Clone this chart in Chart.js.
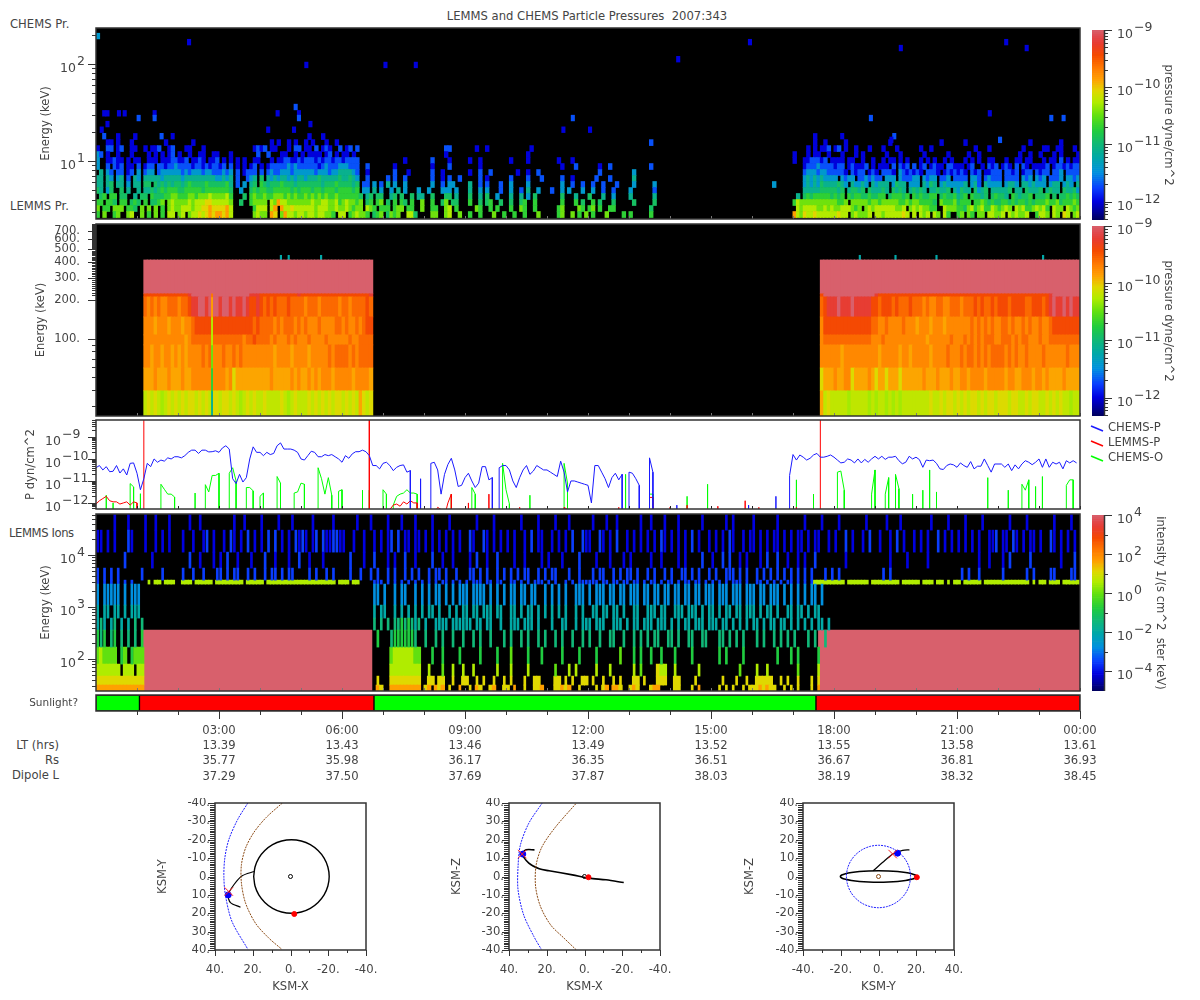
<!DOCTYPE html>
<html>
<head>
<meta charset="utf-8">
<title>LEMMS and CHEMS Particle Pressures</title>
<script src="https://cdn.jsdelivr.net/npm/chart.js@4"></script>
<style>
  html, body { margin: 0; padding: 0; background: #fff; }
  body { position: relative; width: 1200px; height: 1000px; overflow: hidden; }
  canvas { position: absolute; }
  .lbl { position: absolute; font: 11.6px "DejaVu Sans"; color: #444; white-space: pre; line-height: 14px; }
</style>
</head>
<body>
<span class="lbl" style="left:587px;top:9px;transform:translateX(-50%)">LEMMS and CHEMS Particle Pressures  2007:343</span>
<span class="lbl" style="left:10px;top:17px">CHEMS Pr.</span>
<span class="lbl" style="left:10px;top:199px">LEMMS Pr.</span>
<span class="lbl" style="left:9px;top:526px;letter-spacing:-0.4px">LEMMS Ions</span>
<span class="lbl" style="right:1141px;top:738px">LT (hrs)</span>
<span class="lbl" style="right:1141px;top:753px">Rs</span>
<span class="lbl" style="right:1141px;top:768px">Dipole L</span>
<script>
// --- CHEMS spectrogram: one string per energy bin, low to high, 12 cells per hour, '.' = empty hour
// cell characters index into pressureLevels
const chemsEdges = [2.61, 3.01, 3.47, 4.0, 4.62, 5.32, 6.14, 7.08, 8.16, 9.41, 10.85, 12.5, 14.4, 16.6, 19.2];
const chemsRows = [
  '607006700780 070607060880 780788989a9a a9a800000078 770a907a8878 878878877608 806787760567 057670088500 007700780070 060060007006 006006000700 000670070607 060007000060 600000600000 . . . a87988988888 898807877780 887888889808 087808708600 670760770887 780878778006 887087098078',
  '706607770665 070707060787 788878899a99 99a800000068 8808a0a88988 888878887787 787677087606 660677066007 006600780600 000760060600 060076006000 000670000760 670600660000 000000500000 . . . 087888877878 778887670787 888888778078 787766008777 665786786687 678708786678 786087708767',
  '660665066056 506055670787 777878889988 888700500677 77087a887777 777877887786 787767056067 050606506007 006005705500 060050560050 050056006000 000060006050 060500050000 050000050000 . . . 687777777777 766707777767 767777766767 766665076667 566606676565 566565665656 667667566676',
  '056066055004 055065556677 666776777877 778600050676 676677767676 676767676676 666665045055 004505005044 005000550400 050040500300 040040305000 000050004000 500040030000 400000040000 . . . 040565666665 656065665565 566056665606 565566056556 456065545056 554065455605 556050556565',
  '540350050400 404454565666 556666656666 666500300565 665566666565 666566566656 666560330403 003040300030 030003330300 040030300020 030020400300 020030300030 030020020000 300000020000 . . . 000444445555 545045545054 445405454045 454044544504 354405345044 444504405444 504544054453',
  '440450440304 405505454545 545655556555 556402030450 654555655545 555555455565 555450220302 040300300000 003002033000 040020200020 030000300000 000030020020 020020002000 030000030000 . . 000000300000 000343435444 454304334304 344403544033 304354034333 334034204333 303443044343 330344034304',
  '440430340204 304444434444 434444444443 343402002340 504343443434 434445444445 445430020000 020200200000 002001020020 000020100000 020000200020 000020010000 002000200000 040000000000 . . . 000343434333 303233022323 220333032223 303233022302 222033202322 202222032303 230222303323',
  '040320220120 302330233333 323233323322 232302012220 202322333233 333323332334 444320010000 000200010000 002001000000 010020020000 000100100200 . 000200000000 030000000000 . . . 000233323322 222102122012 102221032121 210222101212 121021201122 202212012202 122022302222',
  '300202120110 201220221223 222212212122 120201010120 101222223232 222221232223 332220020000 000100000000 001000020000 000010000000 . 000010002000 000100200000 000000200000 . . . 000122232222 122012111201 011102021202 012012110221 110120010212 012102021011 112012212122',
  '300112110101 100111011122 112011210112 010101010011 000101122112 122212122122 122220000000 000000100000 002000010000 010010000000 010000100000 000100010000 . . . . . 100112221201 111011001001 001011010100 010101001010 001010100110 001001101100 010110201011',
  '320100100010 000101010120 100100110011 000100000002 002000110010 101111012010 110100000000 . 000000100000 . 000000100000 . . . . . . 100010110010 001000101000 000100010000 001000000100 000100100000 000000100100 100010100001',
  '100220120011 001011200120 001100010000 000000000012 120110001022 011020121002 012020000000 . 000000220000 000100100000 000000010000 . . . . . . 000010101120 120100100010 001000100000 010010000000 000001000100 000000010000 011001100010',
  '000110100010 000000001000 000010000000 . 000101001010 010100010010 . . . . . . . 000000200000 . . . 000000100100 000100000000 000010000000 000000010000 001000000000 000000000100 000000100000',
  '000000100001 . . . . 001000100000 . . . . . . . . . . . 000000100000 . . . . . .'
];
// isolated cells above the main band: hour, energy keV, level
const chemsStrays = [
  [0.05,194,3],[2.27,168,1],[5.13,97.7,1],[7.06,97.7,1],[7.8,97.7,1],[4.87,36,2],[4.95,31,1],[4.95,27.7,2],[5.23,24,1],
  [4.2,21,1],[4.83,21,1],[4.43,31,1],[0.2,31,1],[0.28,31,1],[0.56,31,1],[0.7,31,1],[1.04,27.7,2],[1.43,31,1],[1.43,27.7,2],
  [0.14,21,1],[0.28,24,1],[0.2,18,2],[1.6,18,2],[1.87,18,1],[11.63,27.7,2],[11.4,21,1],[12.05,21,1],[14.2,112,1],[15.95,168,1],
  [19.63,146,1],[22.2,168,1],[22.7,146,1],[18.9,27.7,2],[21.8,31,1],[23.3,27.7,2],[23.6,27.7,2],[19.47,18,2],[18.2,18,1],[22.05,16.5,2],[19.4,16.5,1]
];

// --- LEMMS spectrogram: energy bin edges
const lemmsEdges = [25, 39.3, 59.3, 89.8, 107.5, 148.5, 213, 225, 414];
const lemmsRows = [
  '. 008989878989 898998989899 899898789898 898888987898 889898989899 89898a989000 . . . . . . . . . . 00000000a898 888878888878 788787878888 888898898998 989899898998 999899889899 889898988788',
  '. 00aaabaaabaa abaabbbbbbbb bbab9aaaaaaa aaabaaaaabab aabababbbabb bbbabbbba000 . . . . . . . . . . 000000009aaa baabb9aaaaba 9aa9aaa9aaaa aabaaabaaaba abbabbbbabbb bbabbaabbbab babaaaabaaaa',
  '. 00bbabbabbab ababbbbcbcbb bcbbcbcbbbbb bbbbabbbbabb bbabbbbbcbcc ccbcbcccc000 . . . . . . . . . . 00000000bbbb bbabbbbbbbbb babbbbbabbab bbbbabbbbcbb bcbccbcbcbcc ccbcbcbbcbbb bcbbbbbbcbbb',
  '. 00bbbbbbbbbb bbabcccccccc cccccccbccdc cccbcbbbcbcb bbcbbbbcbbbb bbcbbcccc000 . . . . . . . . . . 00000000bccc cccccccccccb bbcbbbbbbbbb bbbabbbbbbcb bbcbcbcbcccb bcccbcbccbbb cbbccccccccc',
  '. 00bbbabbbabb babbcddddddd ddddddddddcd ccccbcbcccbc bcbbbcbbbbcc bcbbcbcdd000 . . . . . . . . . . 00000000bddd dddddddddddc cbbcbbbbcbbb abbbabbbabbb bbbbcbcbcbcb bccbcbbcbcbb cbbcdddddddd',
  '. 00cbcbcbbccc bccdeeffefff effefeefedde dcdcdcccdccc cbcccbcccccb ccbccccdc000 . . . . . . . . . . 00000000cdee efeeefeeeeed dcdddcdcccdc ccbcbbccbbcc cbcccdcdccdc dddcddddccdd dcdefeefefee',
  '. 00dddddddddd dddeffffffff fffffffffeee ddddddddddde dddddddddddd dddddddde000 . . . . . . . . . . 00000000dfff ffffffffffff eddddddddddd dddddddddddd dddddddddddd dddddddddddd dddeffffffff',
  '. 00ffffffffff ffffffffffff ffffffffffff ffffffffffff ffffffffffff fffffffff000 . . . . . . . . . . 00000000ffff ffffffffffff ffffffffffff ffffffffffff ffffffffffff ffffffffffff ffffffffffff'
];
const lemmsSpikeHour = 2.83;
const lemmsSpikeLevels = [4, 6, 7, 8, 8, 10, 11];
const lemmsTopHours = [4.51, 4.7, 5.49, 18.63, 19.5, 20.5, 23.1];
const lemmsTopBin = [414, 450];

// --- line panel, log10 pressure, 12 points per hour; F = below the axis
const F = -13;
const chemsP = [
  -10.4,-10.3,-10.5,-10.35,-10.58,-10.56,-10.3,-10.64,-10.45,-10.73,-10.2,-10.18,
  -10.65,-11.4,-10.9,-10.2,-10.35,-10.0,-10.15,-10.05,-10.1,-9.95,-10.0,-9.9,
  -9.9,-9.95,-9.85,-9.7,-9.6,-9.6,-9.75,-9.6,-9.6,-9.68,-9.67,-9.63,
  -9.7,-9.5,-9.4,-9.55,-10.9,-11.12,-10.7,-11.05,-10.85,-10,-9.45,-9.7,
  -9.7,-9.85,-9.7,-9.8,-9.75,-9.4,-9.27,-9.55,-9.55,-9.55,-9.6,-9.7,
  -10,-10.05,-9.85,-9.65,-9.7,-9.9,-9.9,-9.8,-9.85,-9.8,-9.9,-10,
  -10.15,-9.85,-9.97,-9.77,-9.67,-9.67,-9.6,-9.67,-9.85,-10.3,-10.3,-10.45,
  -10.2,-10.15,-10.3,-10.53,-10.38,-10.3,-10.27,-10.6,-10.53,F,F,-10.9,
  F,F,-10.2,-10.15,-10.5,-11.6,-10.7,-10.25,-9.97,-10.5,-11.25,-11.2,
  -10.85,-10.65,-11.0,-11.3,-11.1,-10.35,-10.35,-10.95,-10.85,F,-10.4,-10.3,
  -10.3,-10.5,-11.0,-11.3,-10.85,-10.5,-10.3,-10.7,-10.55,-10.3,-10.4,-10.5,
  -10.5,-10.6,-10.7,-10.8,-10.1,-10.6,-11.5,-11.0,-11,-11.05,-11.1,-11.15,
  -11.2,-12,-10.3,-10.3,-10.6,-10.9,-11.3,-10.85,-10.65,-10.95,-10.7,F,
  -10.6,-10.65,-10.9,-11.2,F,F,-9.95,-10.6,F,F,F,F,
  F,F,-12.1,F,F,F,F,F,F,F,F,F,
  F,F,F,F,F,F,F,F,F,F,F,-12.1,
  F,F,F,F,F,F,F,-11.7,F,F,F,-10.75,
  -9.8,-10.05,-9.82,-9.92,-10.05,-9.97,-9.82,-9.75,-9.92,-9.92,-9.88,-9.82,
  -9.92,-10.05,-10.18,-10.15,-10,-10.05,-10.18,-10,-10.18,-10.02,-10.15,-10,
  -9.88,-10,-9.88,-10.02,-9.92,-9.92,-9.88,-10.08,-10.22,-10.15,-9.88,-10,
  -9.92,-10.03,-10.38,-10.05,-10.08,-10.05,-10.2,-10.45,-10.48,-10.3,-10.23,-10.27,
  -10.38,-10.18,-10.3,-10.38,-10.12,-10.45,-10.33,-10.33,-10,-10.3,-10.6,-10.23,
  -10.23,-10.23,-10.38,-10.23,-10.53,-10.27,-10.45,-10.23,-10.08,-10.15,-10.26,-10.15,
  -10,-10.38,-10,-10.38,-10.15,-10.23,-10.15,-10.45,-10.08,-10.18,-10.08,-10.18
];
const lemmsP = [
  -12.05,-11.9,-11.8,-11.7,-11.9,-11.95,-11.95,-12.05,-12,-11.95,-12.1,-11.95,
  -12,F,-8,-8,-8,-8,-8,-8,-8,-8,-8,-8,
  -8,-8,-8,-8,-8,-8,-8,-8,-8,-8,-8,-8,
  -8,-8,-8,-8,-8,-8,-8,-8,-8,-8,-8,-8,
  -8,-8,-8,-8,-8,-8,-8,-8,-8,-8,-8,-8,
  -8,-8,-8,-8,-8,-8,-8,-8,-8,-8,-8,-8,
  -8,-8,-8,-8,-8,-8,-8,-8,-8,F,F,F,
  F,F,-12.3,-12.1,-12.05,-12.15,-11.95,-12.05,-11.9,-12,-12,F,
  -12.3,F,F,-12.5,-12.2,-12.3,-12.6,-12.0,-11.6,F,F,F,
  F,-12,F,F,F,F,F,-11.6,F,F,F,F,
  F,-12.3,F,F,-12.2,F,F,-12.4,F,F,F,F,
  F,F,F,F,F,-12.2,-12.3,F,F,F,F,F,
  F,F,F,-12.3,F,F,F,F,F,-12.2,F,F,
  F,F,F,F,F,F,-11.75,-11.75,F,F,F,F,
  -12.2,F,F,F,F,-12.1,F,F,-12.3,F,F,F,
  F,F,-12.15,F,F,F,F,F,F,F,-11.9,F,
  F,F,-12.2,F,F,F,F,F,F,F,F,F,
  F,-12.2,F,F,F,F,F,F,-8,-8,-8,-8,
  -8,-8,-8,-8,-8,-8,-8,-8,-8,-8,-8,-8,
  -8,-8,-8,-8,-8,-8,-8,-8,-8,-8,-8,-8,
  -8,-8,-8,-8,-8,-8,-8,-8,-8,-8,-8,-8,
  -8,-8,-8,-8,-8,-8,-8,-8,-8,-8,-8,-8,
  -8,-8,-8,-8,-8,-8,-8,-8,-8,-8,-8,-8,
  -8,-8,-8,-8,-8,-8,-8,-8,-8,-8,-8,-8
];
const chemsO = [
  F,F,F,-11.65,F,-12,F,F,F,F,-11.12,-11.27,
  F,-11.58,F,F,F,F,F,-11.15,-11.38,-11.6,-11.6,-11.73,
  F,F,F,F,F,-11.55,F,F,-11.17,-11.5,-10.75,-10.75,
  -10.65,F,F,-10.65,-10.4,-11.0,F,F,-11.3,-11.3,-11.45,F,
  -11.7,-11.55,F,F,F,-10.8,-11.1,F,F,F,-11.55,-11.5,
  -11.1,-11.15,F,F,F,-10.4,-10.9,-11.6,-10.85,-11.65,F,-11.47,
  -11.4,F,F,F,F,F,-11.42,F,-11.42,F,F,F,
  -11.4,-11.6,F,-12.1,-11.7,-11.6,-11.55,-11.4,-11.55,-11.55,-11.6,F,
  F,F,F,F,F,F,F,F,-11.6,F,F,F,
  F,F,-11.3,-11.6,F,F,F,F,F,F,F,-10.2,
  -11.4,-12.05,F,F,F,F,F,-11.65,F,F,F,F,
  F,F,F,F,F,-10.2,-11.1,F,F,F,F,F,
  F,F,F,F,F,F,F,F,F,F,F,-10.7,
  F,F,F,F,F,F,-11.6,-11.6,F,F,F,F,
  F,F,F,F,F,-11.7,F,F,F,F,F,-11.15,
  F,F,F,F,F,F,F,F,F,F,F,F,
  F,F,F,F,F,F,F,F,F,F,F,F,
  F,-10.95,F,F,F,F,-11.6,F,F,F,F,F,
  F,-10.6,-10.55,-11.42,F,F,F,F,F,F,F,-11.6,
  -10.5,F,F,-11.6,-10.85,F,-10.7,-11.35,F,F,F,-11.6,
  F,F,-11.42,F,-10.5,F,-11.5,F,F,F,F,F,
  F,F,F,F,F,F,F,F,F,-10.85,F,F,
  F,F,F,-11.42,F,F,F,-11.15,-11.42,-10.95,F,-11.25,
  F,-10.8,F,F,F,F,F,F,-11.2,-10.95,-10.95,F
];

// --- LEMMS ions spectrogram
const ionsEdges = [24.3, 31.6, 47, 80, 170, 361, 614, 1092, 2768, 3300, 5620, 11400, 30200, 61700];
const ionsRows = [
  'aaaaaaaaaaaa aa0000000000 . . . . 0000000000a9 00aaaaaaaaa0 9a0a9a0900a0 090a9009a009 90a0090099a0 0099a9a00900 00909a0aa900 9a90009aa000 09900090a000 009090900909 99a9a9900909 0900090a0000 . . . . . .',
  '999999999999 990000000000 . . . . 000000000090 009999999990 099099009009 900909009009 090009009900 009909090099 090090090900 099090009990 099000090000 000900090090 099999009090 090009090000 . . . . . .',
  '888888808880 880000000000 . . . . . 008888888880 080007008008 008000000800 080000800000 007000808000 008000800000 080700009880 080000008000 000000007000 080080000000 070000080000 . . . . . .',
  '787777067067 770000000000 . . . . . 007888888770 006006000060 000060000600 070000600060 000060000600 006000000700 060600600600 060000600000 006060000600 000000060006 060000060000 . . . . . .',
  '656056050505 060000000000 . . . . 000000000060 005666666500 500505005005 005050050005 050050500505 005050050050 500500550050 050505055005 505005500550 005505050500 050500505050 500050500500 . . . . . .',
  '454045040405 050000000000 . . . . 000000000505 050556565450 400444404444 440440440040 044404440400 040044004044 404440044404 044044404440 404044044404 440440404040 440404404404 040404044040 . . . . . .',
  '404404404044 400000000000 . . . . 000000000404 400404040404 044040040404 404404440440 044040440404 040404004040 044044044040 044004440440 044404440404 404044044044 404044040044 044040440000 . . . . . .',
  '303333303033 300000000000 . . . . 000000000330 300303300303 030330303033 303333030303 033033033003 030303003330 303330330330 333033033033 033033033033 303330333033 303303330303 030303303000 . . . . . .',
  '202020202020 000808808880 088808888808 888888808888 808888888888 888888888808 880880000222 020202020202 020202202020 202220220220 022020202220 202002020222 222022022022 022020220202 202022022020 202020222020 022020202022 020202888888 888088888808 888888808888 808880880808 808888808888 888888888080 880888088888',
  '202020200000 020000020000 020020020002 202022002020 020220202200 002020020200 002002002020 020200202020 020220200200 022020200202 020202200202 022000200200 020220020202 202002020020 200220202002 020022202020 020202020202 020202000202 020000000000 002020000000 . 020200200000 020000002020 000220000220',
  '000000002000 000010000000 000200100010 102001000100 020010001002 001000100000 002000100200 010100200100 002001001000 010200100200 001001000010 100010000200 001000100010 100000100100 001010000200 100202001010 001020020010 010100200000 000100000000 000010000100 000100000000 000000100100 010200000200 000000100020',
  '110101000210 001001010100 010010012010 010210102010 102020101021 210120211221 100100100101 012020110110 101010101010 021002101010 101001020110 010101020021 100210102001 010101010210 101010201001 010102100101 101010110101 011010110010 100201001020 010010201001 010100201010 101010100112 011021010110 100210101010',
  '000001000100 001001000100 000100100000 000010010000 100001000100 000100000100 000010001000 010001000100 001000010000 000100001000 000010000100 001000100000 010001001000 000100100010 001000000100 000010100000 100000010000 000100001000 010000000100 000100010000 000010000100 001000010000 000100001000 000010000100'
];
const ionsSaturatedHours = [[1.12, 6.73], [17.62, 24]];
const ionsSaturatedBin = [24.3, 361];

// --- level tables: log10 of the colour-bar quantity for cell characters 1..f
const pressureLevels = [null,-12,-11.7,-11.4,-11.1,-10.9,-10.7,-10.45,-10.25,-10.05,-9.85,-9.65,-9.45,-9.3,-9.15,-9];
const lemmsLevels = [null,-12,-11.7,-11.4,-11.1,-10.9,-10.7,-10.3,-10.2,-10.08,-9.88,-9.74,-9.58,-9.42,-9.22,-9];
const intensityLevels = [null,-4.1,-3.5,-2.75,-2,-1.4,-0.77,-0.05,0.58,1.12,1.66];

// --- sunlight bar and time axis
const sunlightEdges = [0, 1.06, 6.78, 17.56, 24];
const sunlightColors = ['#00ff00', '#ff0000', '#00ff00', '#ff0000'];
const timeLabels = ['03:00','06:00','09:00','12:00','15:00','18:00','21:00','00:00'];
const ltValues = ['13.39','13.43','13.46','13.49','13.52','13.55','13.58','13.61'];
const rsValues = ['35.77','35.98','36.17','36.35','36.51','36.67','36.81','36.93'];
const dipoleValues = ['37.29','37.50','37.69','37.87','38.03','38.19','38.32','38.45'];

// --- orbit plots
const xyTrace = [[19.4,-2.7],[25.6,-0.4],[30,4.5],[33,10],[31.8,14.2],[26.5,16.7]];
const xyOrbit = [[19.5,0],[18.8,5.2],[16.8,10],[13.6,14.1],[9.5,17.3],[4.7,19.3],[-0.5,20],[-5.7,19.3],[-10.5,17.3],[-14.6,14.1],[-17.8,10],[-19.8,5.2],[-20.5,0],[-19.8,-5.2],[-17.8,-10],[-14.6,-14.1],[-10.5,-17.3],[-5.7,-19.3],[-0.5,-20],[4.7,-19.3],[9.5,-17.3],[13.6,-14.1],[16.8,-10],[18.8,-5.2],[19.5,0]];
const xyBowShock = [[22.6,-40],[28,-31],[32.7,-20],[34.8,-10],[35.3,0],[34.5,10],[31,24.5],[22.6,39.6]];
const xyMagnetopause = [[4.3,-40],[13,-32],[19.4,-24],[23.8,-15.5],[26,-6.4],[26,3.6],[23.8,14.5],[18.5,25.5],[11.4,33.6],[4.6,39.6]];
const xzTrace = [[26.5,14.5],[30.9,14.5],[33,12.4],[29.5,7.3],[24,4.2],[18.8,3.1],[6.4,0.9],[-2.5,-0.9],[-11.4,-1.8],[-20.8,-3.3]];
const xzBowShock = [[22.4,40],[29.5,29],[34,17],[35.2,5.5],[35.2,-7.3],[32.2,-21],[26.8,-32.7],[22.9,-39.6]];
const xzMagnetopause = [[4.6,39.6],[15.3,27],[22.4,16.4],[25.6,6.4],[25.9,-5.5],[23.3,-16.4],[17.9,-26.4],[10.8,-33.6],[4.3,-40]];
const yzTrace = [[-2.8,3.1],[2.1,7.6],[7.8,12.4],[12.8,14.2],[16.4,14.5]];
const yzOrbit = [[20.2,0],[19.5,0.8],[17.5,1.55],[14.3,2.2],[10.1,2.7],[5.2,3],[0,3.1],[-5.2,3],[-10.1,2.7],[-14.3,2.2],[-17.5,1.55],[-19.5,0.8],[-20.2,0],[-19.5,-0.8],[-17.5,-1.55],[-14.3,-2.2],[-10.1,-2.7],[-5.2,-3],[0,-3.1],[5.2,-3],[10.1,-2.7],[14.3,-2.2],[17.5,-1.55],[19.5,-0.8],[20.2,0]];
const yzBoundary = [[17,0],[16.4,4.4],[14.7,8.5],[12,12],[8.5,14.7],[4.4,16.4],[0,17],[-4.4,16.4],[-8.5,14.7],[-12,12],[-14.7,8.5],[-16.4,4.4],[-17,0],[-16.4,-4.4],[-14.7,-8.5],[-12,-12],[-8.5,-14.7],[-4.4,-16.4],[0,-17],[4.4,-16.4],[8.5,-14.7],[12,-12],[14.7,-8.5],[16.4,-4.4],[17,0]];
const xyMarks = { start: [[33,10]], cross: [[32.7,8.2]], end: [[-2,20.4]] };
const xzMarks = { start: [[32.7,12.2]], cross: [[33,12.2]], end: [[-2.1,-0.4]] };
const yzMarks = { start: [[10.1,12.7]], cross: [[7.5,12.2]], end: [[20.3,-0.4]] };

// tick lists
const hourMinor = [1,2,4,5,7,8,10,11,13,14,16,17,19,20,22,23];
const hourMajor = [3,6,9,12,15,18,21,24];
function decadeMinors(loExp, hiExp) {
  const out = [];
  for (let e = loExp; e <= hiExp; e++) for (let m = 2; m <= 9; m++) out.push(Number(m + 'e' + e));
  return out;
}
function runTicks(lo, hi, step) {
  const out = [];
  for (let v = lo; v <= hi; v += step) out.push(v);
  return out;
}

// colour bar ramp, position 0..1 from bottom to top
const rampStops = [
  [0,'#00005a'],[0.05,'#0000a0'],[0.1,'#0000e0'],[0.17,'#0a40ff'],[0.25,'#0090e0'],[0.33,'#00a8a8'],[0.4,'#10b878'],
  [0.47,'#20cc40'],[0.55,'#60e010'],[0.62,'#b0ec00'],[0.68,'#e0d800'],[0.74,'#ffa000'],[0.8,'#ff7a00'],[0.87,'#f54a00'],
  [0.93,'#e83c30'],[0.97,'#e04a50'],[1,'#d8606c']
];
function rampColor(t) {
  t = Math.min(1, Math.max(0, t));
  let i = 1;
  while (i < rampStops.length - 1 && rampStops[i][0] < t) i++;
  const [t0, c0] = rampStops[i - 1], [t1, c1] = rampStops[i];
  const f = (t - t0) / (t1 - t0);
  const ch = k => {
    const a = parseInt(c0.substr(k, 2), 16), b = parseInt(c1.substr(k, 2), 16);
    return Math.round(a + (b - a) * f);
  };
  return 'rgb(' + ch(1) + ',' + ch(3) + ',' + ch(5) + ')';
}
const pressureColor = v => rampColor((v + 12.32) / 3.32);
const intensityColor = v => rampColor((v + 5) / 9);

Chart.defaults.font.family = '"DejaVu Sans"';
Chart.defaults.font.size = 11.6;
Chart.defaults.color = '#444';
Chart.defaults.animation = false;
Chart.defaults.responsive = false;
Chart.defaults.maintainAspectRatio = false;
Chart.defaults.devicePixelRatio = 1;
Chart.defaults.events = [];
Chart.defaults.plugins.legend.display = false;
Chart.defaults.plugins.tooltip.enabled = false;

const INK = '#333';
const TXT = '#444';

// frame, background and hand-set tick marks; positions come from the chart's scales
const framePlugin = {
  id: 'frame',
  beforeDatasetsDraw(chart, args, o) {
    if (!o.background) return;
    const a = chart.chartArea, ctx = chart.ctx;
    ctx.save();
    ctx.fillStyle = o.background;
    ctx.fillRect(a.left, a.top, a.width, a.height);
    ctx.restore();
  },
  afterDraw(chart, args, o) {
    const a = chart.chartArea, ctx = chart.ctx, xs = chart.scales.x, ys = chart.scales.y;
    ctx.save();
    ctx.strokeStyle = INK;
    ctx.lineWidth = 1;
    const line = (x0, y0, x1, y1) => { ctx.beginPath(); ctx.moveTo(x0, y0); ctx.lineTo(x1, y1); ctx.stroke(); };
    const side = o.side === 'right' ? 1 : -1;
    const edge = side === 1 ? a.right : a.left;
    (o.yMinor || []).forEach(v => {
      const y = Math.round(ys.getPixelForValue(v)) + 0.5;
      if (y >= a.top - 1 && y <= a.bottom + 1) line(edge, y, edge + side * (o.yMinorLen || 4), y);
    });
    (o.yMajor || []).forEach(v => {
      const y = Math.round(ys.getPixelForValue(v)) + 0.5;
      line(edge, y, edge + side * (o.yMajorLen || 8), y);
    });
    (o.xInner || []).forEach(v => {
      const x = Math.round(xs.getPixelForValue(v)) + 0.5;
      ctx.strokeStyle = o.innerColor || '#777';
      line(x, a.bottom, x, a.bottom - 3);
    });
    ctx.strokeStyle = INK;
    (o.xMinor || []).forEach(v => {
      const x = Math.round(xs.getPixelForValue(v)) + 0.5;
      line(x, a.bottom, x, a.bottom + (o.xMinorLen || 4));
    });
    (o.xMajor || []).forEach(v => {
      const x = Math.round(xs.getPixelForValue(v)) + 0.5;
      line(x, a.bottom, x, a.bottom + (o.xMajorLen || 8));
    });
    // powers of ten, drawn so the exponent can sit raised beside the base
    ctx.fillStyle = TXT;
    (o.powers || []).forEach(e => {
      const y = ys.getPixelForValue(Number('1e' + e));
      ctx.font = '12.5px "DejaVu Sans"';
      ctx.textAlign = 'left';
      ctx.textBaseline = 'alphabetic';
      ctx.fillText('10', o.powerX, y + 8);
      ctx.fillText(String(e).replace('-', '\u2212'), o.powerX + 17, y + 1);
    });
    if (o.side === 'right') {
      ctx.lineWidth = 1.5;
      line(a.right + 0.5, a.top, a.right + 0.5, a.bottom);
    } else if (!o.noBox) {
      ctx.lineWidth = 1.5;
      ctx.strokeRect(a.left, a.top, a.width, a.height);
    }
    ctx.restore();
  }
};

// slanted key beside the line panel
const keyPlugin = {
  id: 'key',
  afterDraw(chart) {
    const ctx = chart.ctx, ox = chart.canvas.offsetLeft, oy = chart.canvas.offsetTop;
    ctx.save();
    ctx.font = '11.6px "DejaVu Sans"';
    ctx.textBaseline = 'middle';
    ctx.textAlign = 'left';
    chart.data.datasets.forEach((d, i) => {
      const y = 426 + i * 15;
      ctx.strokeStyle = d.borderColor;
      ctx.lineWidth = 1.5;
      ctx.beginPath();
      ctx.moveTo(1091 - ox, y - oy);
      ctx.lineTo(1103 - ox, y + 5 - oy);
      ctx.stroke();
      ctx.fillStyle = TXT;
      ctx.fillText(d.label, 1108 - ox, y + 2 - oy);
    });
    ctx.restore();
  }
};

function addCanvas(left, top, width, height) {
  const c = document.createElement('canvas');
  c.width = width;
  c.height = height;
  c.style.left = left + 'px';
  c.style.top = top + 'px';
  document.body.appendChild(c);
  return c;
}
// padding that puts the plot area on the given pixel box
function boxLayout(left, top, width, height, x0, y0, x1, y1) {
  return { autoPadding: false, padding: { top: y0 - top, right: left + width - x1, bottom: top + height - y1, left: 0 } };
}
// tick labels must not push the plot area in
function noPad(scale) {
  scale.paddingTop = 0;
  scale.paddingBottom = 0;
  scale.paddingLeft = 0;
  scale.paddingRight = 0;
}
const fixWidth = w => (scale => { scale.width = w; noPad(scale); });
const fixHeight = h => (scale => { scale.height = h; noPad(scale); });
const hiddenHours = { type: 'linear', display: false, min: 0, max: 24, offset: false };
const CELL = 984 / 288;

function expandRow(row) {
  return row.split(' ').map(b => (b === '.' ? '000000000000' : b)).join('');
}
function cellsOf(rows, edges, levels, colorOf, keep, thickness) {
  return rows.map((row, r) => {
    const chars = expandRow(row);
    const data = [], colors = [];
    for (let i = 0; i < chars.length; i++) {
      const lev = parseInt(chars[i], 16);
      if (!lev || !keep(chars, i)) continue;
      data.push({ x: (i + 0.5) / 12, y: [edges[r], edges[r + 1]] });
      colors.push(colorOf(levels[lev]));
    }
    return { data, backgroundColor: colors, barThickness: thickness, borderWidth: 0, grouped: false };
  });
}
// bright cells with an occupied neighbour join into blocks; everything else stays a thin line
const joinsBlock = (chars, i) => parseInt(chars[i], 16) >= 7 &&
  ((i > 0 && chars[i - 1] !== '0') || (i < chars.length - 1 && chars[i + 1] !== '0'));

function logAxis(min, max, yOpts, w) {
  return Object.assign({
    type: 'logarithmic', min, max,
    ticks: { display: false },
    grid: { display: false },
    border: { display: false },
    afterFit: fixWidth(w)
  }, yOpts);
}
const yTitle = text => ({ display: true, text, padding: 0, color: TXT, font: { size: 11.6 } });

// panel 1: CHEMS
{
  const L = 39, T = 26, W = 1050, H = 196;
  const datasets = cellsOf(chemsRows, chemsEdges, pressureLevels, pressureColor, () => true, CELL + 0.3);
  datasets.push({
    data: chemsStrays.map(s => ({ x: s[0], y: [s[1] / 1.07, s[1] * 1.07] })),
    backgroundColor: chemsStrays.map(s => pressureColor(pressureLevels[s[2]])),
    barThickness: CELL, borderWidth: 0, grouped: false
  });
  new Chart(addCanvas(L, T, W, H), {
    type: 'bar',
    data: { datasets },
    options: {
      layout: boxLayout(L, T, W, H, 96, 28, 1080, 219),
      scales: {
        x: hiddenHours,
        y: logAxis(2.52, 235, { title: yTitle('Energy (keV)') }, 96 - L)
      },
      plugins: { frame: { background: '#000', powers: [2, 1], powerX: 60 - L, yMajor: [100, 10], yMinor: decadeMinors(0, 2), xInner: hourMinor.concat(hourMajor) } }
    },
    plugins: [framePlugin]
  });
}

// panel 2: LEMMS
{
  const L = 34, T = 222, W = 1055, H = 196;
  const datasets = cellsOf(lemmsRows, lemmsEdges, lemmsLevels, pressureColor, () => true, CELL + 0.3);
  datasets.unshift({
    data: lemmsSpikeLevels.map((lev, r) => ({ x: lemmsSpikeHour, y: [lemmsEdges[r], lemmsEdges[r + 1]] })),
    backgroundColor: lemmsSpikeLevels.map(lev => pressureColor(pressureLevels[lev])),
    barThickness: 1.3, borderWidth: 0, grouped: false
  });
  datasets.push({
    data: lemmsTopHours.map(h => ({ x: h, y: lemmsTopBin })),
    backgroundColor: '#00a8a8', barThickness: 1.5, borderWidth: 0, grouped: false
  });
  new Chart(addCanvas(L, T, W, H), {
    type: 'bar',
    data: { datasets },
    options: {
      layout: boxLayout(L, T, W, H, 96, 224, 1080, 416),
      scales: {
        x: hiddenHours,
        y: logAxis(25, 790, {
          title: yTitle('Energy (keV)'),
          afterBuildTicks: s => { s.ticks = [100, 200, 300, 400, 500, 600, 700].map(value => ({ value })); },
          ticks: { display: true, autoSkip: false, padding: 8, callback: v => v + '.', color: TXT, font: { size: 11.6 } }
        }, 96 - L)
      },
      plugins: { frame: {
        background: '#000',
        yMajor: [100, 200, 300, 400, 500, 600, 700],
        yMinor: [30, 40, 50, 60, 70, 80, 90].concat(runTicks(220, 790, 10)),
        xInner: hourMinor.concat(hourMajor)
      } }
    },
    plugins: [framePlugin]
  });
}

// panel 3: pressure lines
{
  const L = 24, T = 418, W = 1176, H = 94;
  // a gap in the data shows as a vertical drop to below the axis, not a slope
  const series = (label, values, color) => {
    const data = [];
    values.forEach((v, i) => {
      const x = i / 12;
      if (v === F) {
        if (i > 0 && values[i - 1] !== F) data.push({ x: (i - 1) / 12, y: Math.pow(10, F) });
        return;
      }
      if (i > 0 && values[i - 1] === F) data.push({ x, y: Math.pow(10, F) });
      data.push({ x, y: Math.pow(10, v) });
    });
    return { label, data, borderColor: color, borderWidth: 1, pointRadius: 0, tension: 0, fill: false };
  };
  new Chart(addCanvas(L, T, W, H), {
    type: 'line',
    data: { datasets: [series('CHEMS-P', chemsP, '#1a1aff'), series('LEMMS-P', lemmsP, '#ff0000'), series('CHEMS-O', chemsO, '#00ff00')] },
    options: {
      layout: boxLayout(L, T, W, H, 96, 420, 1080, 509),
      scales: {
        x: hiddenHours,
        y: logAxis(5.3e-13, 5.9e-9, { title: yTitle('P dyn/cm^2') }, 96 - L)
      },
      plugins: { frame: {
        powers: [-9, -10, -11, -12], powerX: 45 - L,
        yMajor: [1e-9, 1e-10, 1e-11, 1e-12], yMinor: decadeMinors(-13, -9),
        xInner: hourMinor.concat(hourMajor), innerColor: '#222'
      } }
    },
    plugins: [framePlugin, keyPlugin]
  });
}

// panel 4: ions
{
  const L = 39, T = 512, W = 1050, H = 181;
  const solid = cellsOf(ionsRows, ionsEdges, intensityLevels, intensityColor, joinsBlock, CELL + 0.3);
  const thin = cellsOf(ionsRows, ionsEdges, intensityLevels, intensityColor, (c, i) => !joinsBlock(c, i), 2);
  const boxes = ionsSaturatedHours.map(h => ({
    data: [{ x: (h[0] + h[1]) / 2, y: ionsSaturatedBin }],
    backgroundColor: '#d8606c', barThickness: (h[1] - h[0]) * 41, borderWidth: 0, grouped: false
  }));
  new Chart(addCanvas(L, T, W, H), {
    type: 'bar',
    data: { datasets: thin.concat(solid, boxes) },
    options: {
      layout: boxLayout(L, T, W, H, 96, 514, 1080, 691),
      scales: {
        x: hiddenHours,
        y: logAxis(24.3, 61700, { title: yTitle('Energy (keV)') }, 96 - L)
      },
      plugins: { frame: { background: '#000', powers: [4, 3, 2], powerX: 60 - L, yMajor: [1e4, 1e3, 1e2], yMinor: decadeMinors(1, 4), xInner: hourMinor.concat(hourMajor) } }
    },
    plugins: [framePlugin]
  });
}

// colour bars
function colorBar(top, bottom, loExp, hiExp, colorOf, title, width, powers, minors) {
  const L = 1090, T = top - 8, W = width, H = bottom - top + 16;
  const N = 96, data = [], colors = [];
  for (let i = 0; i < N; i++) {
    const a = loExp + (hiExp - loExp) * i / N, b = loExp + (hiExp - loExp) * (i + 1) / N;
    data.push({ x: 0.5, y: [Math.pow(10, a), Math.pow(10, b)] });
    colors.push(colorOf((a + b) / 2));
  }
  new Chart(addCanvas(L, T, W, H), {
    type: 'bar',
    data: { datasets: [{ data, backgroundColor: colors, barThickness: 12, borderWidth: 0, grouped: false }] },
    options: {
      layout: { autoPadding: false, padding: { top: top - T, bottom: T + H - bottom, left: 2, right: 0 } },
      scales: {
        x: { type: 'linear', display: false, min: 0, max: 1, offset: false },
        y: logAxis(Math.pow(10, loExp), Math.pow(10, hiExp), {
          position: 'right',
          title: yTitle(title)
        }, L + W - 1104)
      },
      plugins: { frame: {
        side: 'right', noBox: true, powers, powerX: 1117 - L,
        yMajor: powers.map(e => Number('1e' + e)), yMinor: minors, yMajorLen: 8, yMinorLen: 4
      } }
    },
    plugins: [framePlugin]
  });
}
colorBar(30, 220, -12.32, -9, pressureColor, 'pressure dyne/cm^2', 85, [-9, -10, -11, -12], decadeMinors(-13, -10));
colorBar(226, 416, -12.32, -9, pressureColor, 'pressure dyne/cm^2', 85, [-9, -10, -11, -12], decadeMinors(-13, -10));
colorBar(515, 691, -5, 4, intensityColor, 'intensity 1/(s cm^2  ster keV)', 77, [4, 2, 0, -2, -4], [1e3, 1e1, 1e-1, 1e-3]);

// sunlight bar with the time and ephemeris labels under it
{
  const L = 0, T = 690, W = 1200, H = 100;
  new Chart(addCanvas(L, T, W, H), {
    type: 'bar',
    data: {
      labels: ['Sunlight?'],
      datasets: sunlightColors.map((c, i) => ({
        data: [[sunlightEdges[i], sunlightEdges[i + 1]]],
        backgroundColor: c, borderColor: '#000', borderWidth: 1, borderSkipped: false,
        barPercentage: 1, categoryPercentage: 1, grouped: false
      }))
    },
    options: {
      indexAxis: 'y',
      layout: { autoPadding: false, padding: { top: 5, right: 120, left: 0, bottom: 0 } },
      scales: {
        x: {
          type: 'linear', min: 0, max: 24, offset: false,
          grid: { display: false, drawTicks: false }, border: { display: false },
          afterFit: fixHeight(T + H - 711),
          ticks: {
            stepSize: 1, autoSkip: false, maxRotation: 0, padding: 12, color: TXT,
            font: { size: 11.6, lineHeight: 1.32 },
            callback: v => {
              if (v === 0 || v % 3 !== 0) return '';
              const k = v / 3 - 1;
              return [timeLabels[k], ltValues[k], rsValues[k], dipoleValues[k]];
            }
          }
        },
        y: {
          grid: { display: false, drawTicks: false }, border: { display: false },
          afterFit: fixWidth(96),
          ticks: { padding: 18, color: TXT, font: { size: 10.5 } }
        }
      },
      plugins: { frame: { background: '#000', xMinor: hourMinor, xMajor: hourMajor, xMinorLen: 4, xMajorLen: 8 } }
    },
    plugins: [framePlugin]
  });
}

// orbit plots
function orbitPlot(left, x0, xTitle, yTitleText, xReverse, yReverse, sets, marks, boxColor) {
  const T = 798, H = 196, W = x0 + 151 + 30 - left;
  const line = (pts, color, width, dash) => ({
    data: pts.map(p => ({ x: p[0], y: p[1] })),
    showLine: true, borderColor: color, borderWidth: width, borderDash: dash || [],
    pointRadius: 0, tension: 0.3, fill: false
  });
  const dot = (pts, style, size, color, bw) => ({
    data: pts.map(p => ({ x: p[0], y: p[1] })),
    showLine: false, pointStyle: style, pointRadius: size, backgroundColor: color, borderColor: color, pointBorderWidth: bw
  });
  // the first dataset is painted last, so the marks lead
  const center = dot([[0, 0]], 'circle', 2, 'rgba(0,0,0,0)', 1);
  center.borderColor = boxColor;
  const datasets = [
    dot(marks.end, 'circle', 2.5, '#ff0000', 1),
    dot(marks.cross, 'crossRot', 6, '#ff2020', 1),
    dot(marks.start, 'circle', 3, '#0000ff', 1),
    center
  ].concat(sets.map(s => line(s[0], s[1], s[2], s[3])));
  const axis = (reverse, step, title) => ({
    type: 'linear', min: -40, max: 40, reverse,
    grid: { display: false, drawTicks: false }, border: { display: false },
    title: { display: true, text: title, padding: 0, color: TXT, font: { size: 11.6 } },
    ticks: { stepSize: step, autoSkip: false, maxRotation: 0, color: TXT, font: { size: 11.6 }, callback: v => v + '.' }
  });
  const xAxis = axis(xReverse, 20, xTitle);
  xAxis.ticks.padding = 13;
  xAxis.afterFit = fixHeight(T + H - 950);
  const yAxis = axis(yReverse, 10, yTitleText);
  yAxis.ticks.padding = 5;
  yAxis.afterFit = fixWidth(x0 - left);
  new Chart(addCanvas(left, T, W, H), {
    type: 'scatter',
    data: { datasets },
    options: {
      layout: { autoPadding: false, padding: { top: 803 - T, right: 30, left: 0, bottom: 0 } },
      scales: { x: xAxis, y: yAxis },
      plugins: { frame: {
        background: '#fff',
        xMajor: runTicks(-40, 40, 20), xMinor: [-30, -10, 10, 30], xMajorLen: 6, xMinorLen: 3,
        yMajor: runTicks(-40, 40, 10), yMinor: runTicks(-40, 40, 1), yMajorLen: 7, yMinorLen: 5
      } }
    },
    plugins: [framePlugin]
  });
}
const BLUE = '#2020ff', BROWN = '#8b4a14';
orbitPlot(156, 215, 'KSM-X', 'KSM-Y', true, true, [
  [xyBowShock, BLUE, 1, [2, 1]],
  [xyMagnetopause, BROWN, 1, [2, 1]],
  [xyOrbit, '#000', 1.4],
  [xyTrace, '#000', 1.2]
], xyMarks, '#000');
orbitPlot(450, 509, 'KSM-X', 'KSM-Z', true, false, [
  [xzBowShock, BLUE, 1, [2, 1]],
  [xzMagnetopause, BROWN, 1, [2, 1]],
  [xzTrace, '#000', 1.6]
], xzMarks, '#000');
orbitPlot(743, 803, 'KSM-Y', 'KSM-Z', false, false, [
  [yzBoundary, BLUE, 1, [2, 1]],
  [yzOrbit, '#000', 1.6],
  [yzTrace, '#000', 1.2]
], yzMarks, '#8b4a14');
</script>
</body>
</html>
